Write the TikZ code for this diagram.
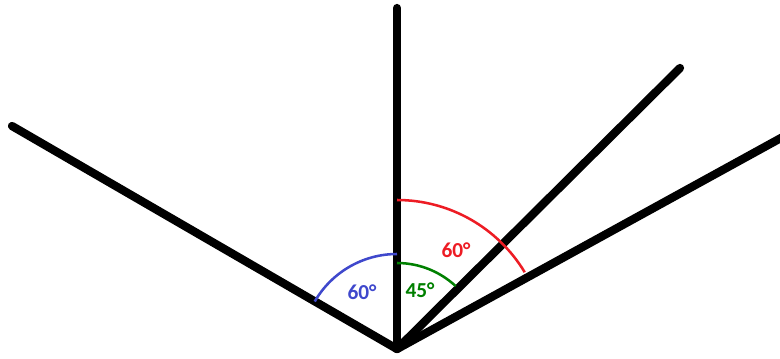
\documentclass[tikz,border=0pt]{standalone}
\usepackage{fontspec}
\setmainfont{Carlito}
\usetikzlibrary{positioning}
\definecolor{arcblue}{RGB}{63,72,204}
\definecolor{arcred}{RGB}{237,28,36}
\definecolor{arcgreen}{RGB}{0,128,0}
\begin{document}
\begin{tikzpicture}[
  x=0.75pt,y=0.75pt,
  ray/.style={line width=6.2pt,line cap=round},
  anglearc/.style={line width=1.9pt},
  deg/.style={font=\fontsize{16}{19}\selectfont\bfseries,inner sep=0pt}
]
\useasboundingbox (0,0) rectangle (780,358);
\coordinate (vertex) at (397,9);
\coordinate (up) at (397,350);
\coordinate (left) at (12,232);
\coordinate (mid) at (680,290);
\coordinate (low) at (790,225);
% the four rays
\draw[ray] (vertex) -- (up);
\draw[ray] (vertex) -- (left);
\draw[ray] (vertex) -- (mid);
\draw[ray] (vertex) -- (low);
% angle arcs
\draw[anglearc,arcblue] ([shift={(150:95)}]vertex) arc[start angle=150,end angle=90,radius=95];
\draw[anglearc,arcgreen] ([shift={(90:86)}]vertex) arc[start angle=90,end angle=47,radius=86];
\draw[anglearc,arcred] ([shift={(90:149)}]vertex) arc[start angle=90,end angle=31,radius=149];
\node[deg,text=arcblue] (blue60) at (362,66) {60°};
\node[deg,text=arcgreen] (green45) at (420,68) {45°};
\node[deg,text=arcred] (red60) at (456,108) {60°};
\end{tikzpicture}
\end{document}
